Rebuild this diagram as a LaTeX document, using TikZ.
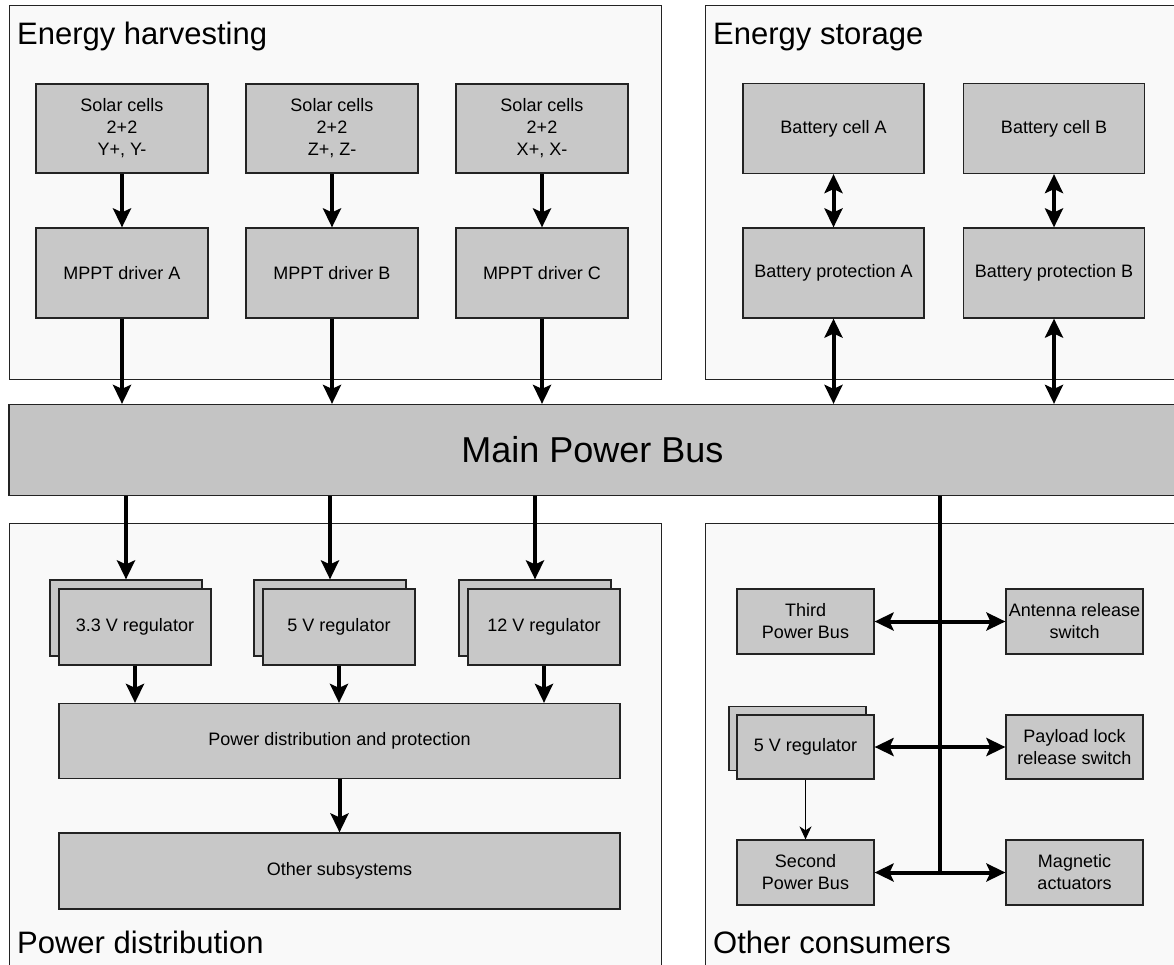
\documentclass[tikz,border=0pt]{standalone}
\usepackage{fontspec}
\setmainfont{Liberation Sans}
\usetikzlibrary{arrows.meta,calc}
\definecolor{groupbg}{RGB}{249,249,249}
\definecolor{boxbg}{RGB}{200,200,200}
\definecolor{busbg}{RGB}{196,196,196}
\definecolor{edge}{RGB}{35,35,35}
\tikzset{
        group/.style={draw=edge,line width=1pt,fill=groupbg},
        grouplabel/.style={anchor=base west,inner sep=0pt,font=\fontsize{31}{37}\selectfont},
        block/.style 2 args={draw=edge,line width=1.2pt,fill=boxbg,align=center,inner sep=1pt,
                minimum width=#1,minimum height=#2,font=\fontsize{18}{22}\selectfont},
        flow/.style={line width=4pt,-{Stealth[length=19pt,width=18pt,inset=4pt]}},
        flowboth/.style={line width=4pt,{Stealth[length=19pt,width=18pt,inset=4pt]}-{Stealth[length=19pt,width=18pt,inset=4pt]}},
        thinflow/.style={line width=1.3pt,-{Stealth[length=13pt,width=12pt,inset=4pt]}}
}

\begin{document}
\begin{tikzpicture}[x=1pt,y=-1pt]
        \useasboundingbox (0,0) rectangle (1174,965);
        \draw[group] (9,6) rectangle (661,379);
        \draw[group] (705,6) rectangle (1190,379);
        \draw[group] (9,523) rectangle (661,990);
        \draw[group] (705,523) rectangle (1190,990);
        \node[grouplabel] (harvestlbl) at (17,45) {Energy harvesting};
        \node[grouplabel] (storagelbl) at (713,45) {Energy storage};
        \node[grouplabel] (distriblbl) at (17,953) {Power distribution};
        \node[grouplabel] (consumerlbl) at (713,953) {Other consumers};

        \node[block={1167}{91},fill=busbg,font=\fontsize{36}{43}\selectfont] (bus) at (592.5,450) {Main Power Bus};

        \node[block={172}{89}] (solarY) at (122,128.5) {Solar cells\\2+2\\Y+, Y-};
        \node[block={172}{89}] (solarZ) at (332,128.5) {Solar cells\\2+2\\Z+, Z-};
        \node[block={172}{89}] (solarX) at (542,128.5) {Solar cells\\2+2\\X+, X-};
        \node[block={172}{90}] (mpptA) at (122,273) {MPPT driver A};
        \node[block={172}{90}] (mpptB) at (332,273) {MPPT driver B};
        \node[block={172}{90}] (mpptC) at (542,273) {MPPT driver C};

        \node[block={181}{90}] (cellA) at (833.5,128.5) {Battery cell A};
        \node[block={181}{90}] (cellB) at (1054,128.5) {Battery cell B};
        \node[block={181}{90}] (protA) at (833.5,273) {Battery protection A};
        \node[block={181}{90}] (protB) at (1054,273) {Battery protection B};

        \node[block={152}{76}] (reg33back) at (126,618) {};
        \node[block={152}{76}] (reg33) at (135,627) {3.3 V regulator};
        \node[block={152}{76}] (reg5back) at (330,618) {};
        \node[block={152}{76}] (reg5) at (339,627) {5 V regulator};
        \node[block={152}{76}] (reg12back) at (535,618) {};
        \node[block={152}{76}] (reg12) at (544,627) {12 V regulator};
        \node[block={561}{75}] (pdp) at (339.5,741) {Power distribution and protection};
        \node[block={561}{76}] (others) at (339.5,871) {Other subsystems};

        \node[block={137}{65}] (third) at (805.5,621.5) {Third\\Power Bus};
        \node[block={137}{65}] (antenna) at (1074.5,621.5) {Antenna release\\switch};
        \node[block={137}{64}] (regOback) at (797.5,738.5) {};
        \node[block={137}{64}] (regO) at (805.5,747) {5 V regulator};
        \node[block={137}{64}] (payload) at (1074.5,747) {Payload lock\\release switch};
        \node[block={137}{65}] (second) at (805.5,872.5) {Second\\Power Bus};
        \node[block={137}{65}] (magnetic) at (1074.5,872.5) {Magnetic\\actuators};

        \draw[flow] (solarY) -- (mpptA);
        \draw[flow] (solarZ) -- (mpptB);
        \draw[flow] (solarX) -- (mpptC);
        \draw[flow] (mpptA) -- (mpptA |- bus.north);
        \draw[flow] (mpptB) -- (mpptB |- bus.north);
        \draw[flow] (mpptC) -- (mpptC |- bus.north);

        \draw[flowboth] (cellA) -- (protA);
        \draw[flowboth] (cellB) -- (protB);
        \draw[flowboth] (protA) -- (protA |- bus.north);
        \draw[flowboth] (protB) -- (protB |- bus.north);

        \draw[flow] (reg33back |- bus.south) -- (reg33back);
        \draw[flow] (reg5back |- bus.south) -- (reg5back);
        \draw[flow] (reg12back |- bus.south) -- (reg12back);
        \draw[flow] (reg33) -- (reg33 |- pdp.north);
        \draw[flow] (reg5) -- (reg5 |- pdp.north);
        \draw[flow] (reg12) -- (reg12 |- pdp.north);
        \draw[flow] (pdp) -- (others);

        \coordinate (tap) at ($(second.east)!0.5!(magnetic.west)$);
        \draw[line width=4pt] (tap |- bus.south) -- (tap);
        \draw[flowboth] (third) -- (antenna);
        \draw[flowboth] (regO) -- (payload);
        \draw[flowboth] (second) -- (magnetic);
        \draw[thinflow] (regO) -- (second);
\end{tikzpicture}
\end{document}
